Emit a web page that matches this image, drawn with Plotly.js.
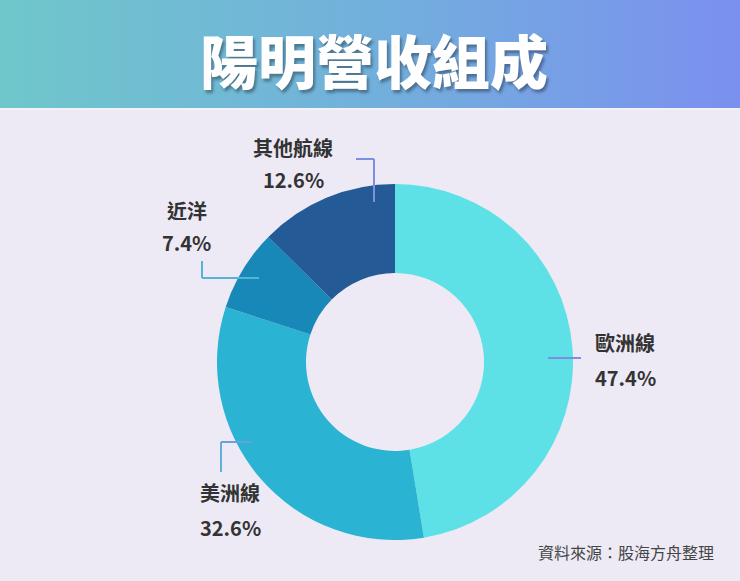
<!DOCTYPE html>
<html>
<head>
<meta charset="utf-8">
<script src="https://cdn.plot.ly/plotly-3.0.1.min.js"></script>
<style>
html,body{margin:0;padding:0;background:#edeaf5;}
#chart{width:740px;height:581px;}
</style>
</head>
<body>
<div id="chart"></div>
<script>
var categories = ["歐洲線", "美洲線", "近洋", "其他航線"];
var shares = [47.4, 32.6, 7.4, 12.6];
var sliceColors = ["#5ee1e6", "#2bb3d4", "#1788b8", "#245a96"];
var titleText = "陽明營收組成";
var sourceText = "資料來源：股海方舟整理";

var W = 740, H = 581;
function px(x){ return x / W; }
function py(y){ return 1 - y / H; }

var labelFont = {family: "Noto Sans CJK TC, Noto Sans, sans-serif", size: 20, color: "#333333", weight: 700};

// label anchor positions (pixels), per category
var labelPos = {
  "歐洲線": {x: 593, y1: 342, y2: 377, anchor: "left"},
  "美洲線": {x: 198, y1: 492, y2: 527, anchor: "left"},
  "近洋": {x: 187, y1: 210, y2: 243, anchor: "center"},
  "其他航線": {x: 293, y1: 147, y2: 180, anchor: "center"}
};

var annotations = [];
categories.forEach(function(c, i){
  var p = labelPos[c];
  annotations.push({xref:"paper", yref:"paper", x:px(p.x), y:py(p.y1), xanchor:p.anchor, yanchor:"middle",
    text:c, showarrow:false, font:labelFont});
  annotations.push({xref:"paper", yref:"paper", x:px(p.x), y:py(p.y2), xanchor:p.anchor, yanchor:"middle",
    text:shares[i].toFixed(1) + "%", showarrow:false, font:labelFont});
});
annotations.push({xref:"paper", yref:"paper", x:px(716), y:py(552), xanchor:"right", yanchor:"middle",
  text:sourceText, showarrow:false,
  font:{family:"Noto Sans CJK TC, Noto Sans, sans-serif", size:16, color:"#444444", weight:400}});

var lineColor = "#7392d8";
function seg(x0,y0,x1,y1,col){
  return {type:"line", xref:"paper", yref:"paper", x0:px(x0), y0:py(y0), x1:px(x1), y1:py(y1),
    line:{color:col||lineColor, width:2}};
}
var shapes = [
  seg(356,159,374,159,"#7d8fe0"), seg(374,159,374,202,"#7d8fe0"),
  seg(202,261,202,278,"#55b3d6"), seg(202,278,259,278,"#55b3d6"),
  seg(548,358,581,358,"#7d8fe0"),
  seg(221,472,221,442,"#5fb0da"), seg(221,442,252,442,"#6a9fe0")
];

var gradSvg = '<svg xmlns="http://www.w3.org/2000/svg" width="740" height="110" preserveAspectRatio="none">' +
  '<defs><linearGradient id="g" x1="0" y1="0" x2="1" y2="0">' +
  '<stop offset="0" stop-color="#6fc7cb"/><stop offset="0.5" stop-color="#72b0dc"/><stop offset="1" stop-color="#7b90ef"/>' +
  '</linearGradient></defs><rect width="740" height="110" fill="url(#g)"/>' +
  '<rect y="108" width="740" height="2" fill="#f4f2f9"/></svg>';
var gradUri = "data:image/svg+xml;base64," + btoa(gradSvg);

var data = [{
  type: "pie",
  labels: categories,
  values: shares,
  marker: {colors: sliceColors, line: {width: 0}},
  hole: 0.5,
  sort: false,
  direction: "clockwise",
  rotation: 0,
  textinfo: "none",
  hoverinfo: "none",
  showlegend: false,
  domain: {x: [px(217), px(573)], y: [py(540), py(184)]}
}];

var layout = {
  width: W, height: H,
  margin: {l:0, r:0, t:0, b:0},
  paper_bgcolor: "#edeaf5",
  plot_bgcolor: "#edeaf5",
  title: {text: titleText, x: px(374), xanchor: "center", y: py(64), yanchor: "middle", yref: "container",
    font: {family: "Noto Sans CJK TC, sans-serif", size: 58, color: "#ffffff", weight: 900,
      shadow: "2px 3px 3px rgba(0,0,0,0.35)"}},
  images: [{source: gradUri, xref: "paper", yref: "paper", x: 0, y: 1, sizex: 1, sizey: 110 / H,
    xanchor: "left", yanchor: "top", sizing: "stretch", layer: "below"}],
  annotations: annotations,
  shapes: shapes
};

Plotly.newPlot("chart", data, layout, {displayModeBar: false, staticPlot: true});
</script>
</body>
</html>
